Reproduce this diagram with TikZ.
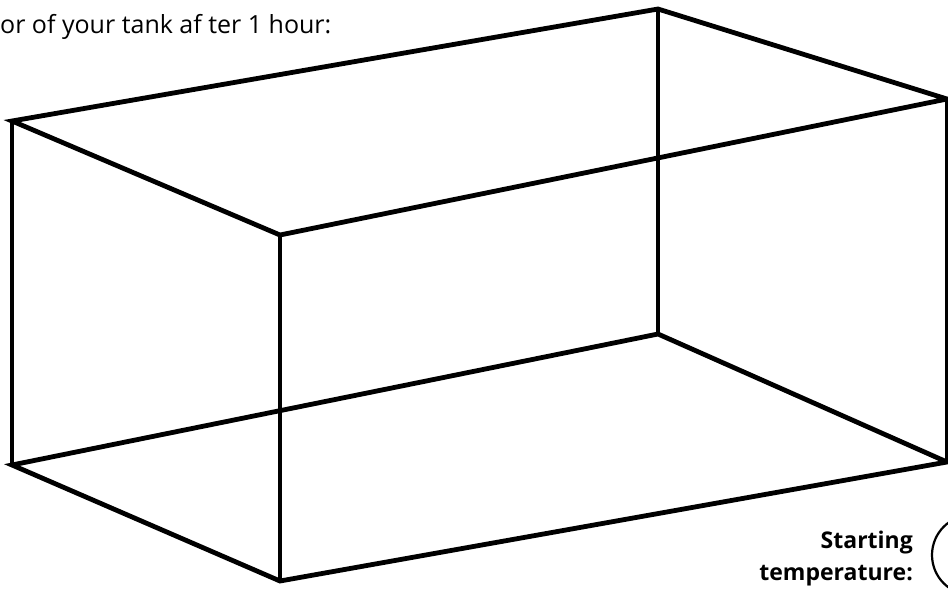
\documentclass[tikz,border=0pt]{standalone}
\usepackage{fontspec}
\setmainfont{Open Sans}
\usepackage{tikz}
\tikzset{
  edge/.style={line width=4.8pt,line join=miter,line cap=rect},
  dial/.style={line width=2.2pt},
  caption/.style={inner sep=0pt,font=\fontsize{25}{32}\selectfont},
}

\begin{document}
\begin{tikzpicture}[x=1pt,y=-1pt]
\useasboundingbox (0,0) rectangle (948,614);
\clip (0,0) rectangle (948,614);
% corners of the tank
\coordinate (lt) at (12,121);
\coordinate (bt) at (658,9);
\coordinate (rt) at (947,99);
\coordinate (ft) at (280,235);
\coordinate (lb) at (12,465);
\coordinate (bb) at (658,334);
\coordinate (rb) at (947,462);
\coordinate (fb) at (280,581);
% top
\draw[edge] (lt) -- (bt) -- (rt) -- (ft) -- cycle;
% bottom
\draw[edge] (lb) -- (bb) -- (rb) -- (fb) -- cycle;
% uprights
\draw[edge] (lt) -- (lb);
\draw[edge] (bt) -- (bb);
\draw[edge] (ft) -- (fb);
\draw[edge] (rt) -- (rb);
% labels
\node[caption,anchor=base west] (head) at (0,33) {or of your tank af ter 1 hour:};
\node[caption,anchor=base east,align=right,font=\fontsize{23}{32}\selectfont\bfseries] (start) at (913,580) {Starting\\temperature:};
\node[dial,draw,circle,minimum size=80pt] (temp) at (972,555) {};
\end{tikzpicture}
\end{document}
